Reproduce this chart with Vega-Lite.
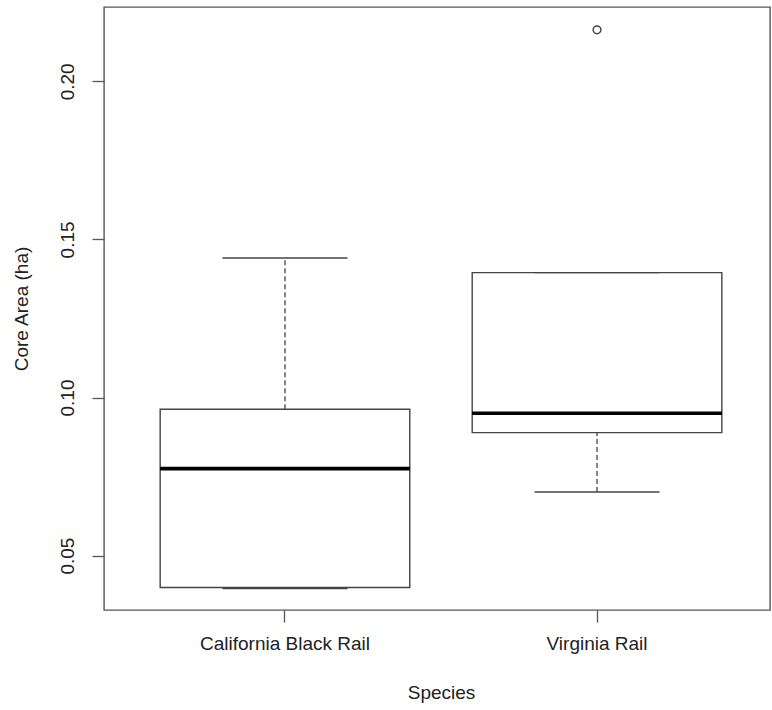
{
  "$schema": "https://vega.github.io/schema/vega-lite/v6.json",
  "autosize": "none",
  "padding": {"left": 104, "top": 7, "right": 2, "bottom": 100},
  "width": 666,
  "height": 603,
  "background": "white",
  "config": {
    "font": "Liberation Sans",
    "view": {"stroke": "#555", "strokeWidth": 1.4},
    "axis": {
      "labelFont": "Liberation Sans",
      "titleFont": "Liberation Sans",
      "labelFontSize": 19,
      "titleFontSize": 19,
      "titleFontWeight": "normal",
      "labelColor": "#222",
      "titleColor": "#222",
      "tickColor": "#555",
      "tickWidth": 1.3,
      "tickSize": 12,
      "domain": false,
      "grid": false
    }
  },
  "datasets": {
    "stats": [
      {"species": "California Black Rail", "lo": 0.0396, "q1": 0.0399, "med": 0.0775, "q3": 0.0963, "hi": 0.1441},
      {"species": "Virginia Rail", "lo": 0.0701, "q1": 0.0889, "med": 0.0950, "q3": 0.1395, "hi": 0.1395}
    ],
    "outliers": [
      {"species": "Virginia Rail", "value": 0.2163}
    ]
  },
  "encoding": {
    "x": {
      "field": "species",
      "type": "nominal",
      "sort": ["California Black Rail", "Virginia Rail"],
      "scale": {"type": "band", "range": [0, 674], "paddingInner": 0, "paddingOuter": 0.08},
      "axis": {"title": "Species", "labelAngle": 0, "labelPadding": 12, "labelBaseline": "top", "titlePadding": 30}
    }
  },
  "layer": [
    {
      "data": {"name": "stats"},
      "mark": {"type": "rule", "stroke": "#444", "strokeWidth": 1.3, "strokeDash": [5, 3]},
      "encoding": {
        "y": {
          "field": "q3", "type": "quantitative",
          "scale": {"domain": [0.0328, 0.2235], "nice": false, "zero": false},
          "axis": {
            "title": "Core Area (ha)",
            "values": [0.05, 0.1, 0.15, 0.2],
            "format": ".2f",
            "labelAngle": -90,
            "labelAlign": "center",
            "labelBaseline": "alphabetic",
            "labelPadding": 19,
            "titleAngle": -90,
            "titleX": -77,
            "titleBaseline": "alphabetic"
          }
        },
        "y2": {"field": "hi"}
      }
    },
    {
      "data": {"name": "stats"},
      "mark": {"type": "rule", "stroke": "#444", "strokeWidth": 1.3, "strokeDash": [5, 3]},
      "encoding": {
        "y": {"field": "lo", "type": "quantitative"},
        "y2": {"field": "q1"}
      }
    },
    {
      "data": {"name": "stats"},
      "mark": {"type": "bar", "fill": "white", "stroke": "#444", "strokeWidth": 1.4, "width": {"band": 0.8}},
      "encoding": {
        "y": {"field": "q1", "type": "quantitative"},
        "y2": {"field": "q3"}
      }
    },
    {
      "data": {"name": "stats"},
      "mark": {"type": "tick", "color": "#444", "size": 125, "thickness": 1.4, "opacity": 1},
      "encoding": {
        "y": {"field": "hi", "type": "quantitative"}
      }
    },
    {
      "data": {"name": "stats"},
      "mark": {"type": "tick", "color": "#444", "size": 125, "thickness": 1.4, "opacity": 1},
      "encoding": {
        "y": {"field": "lo", "type": "quantitative"}
      }
    },
    {
      "data": {"name": "stats"},
      "mark": {"type": "tick", "color": "black", "size": 250, "thickness": 3.6, "opacity": 1},
      "encoding": {
        "y": {"field": "med", "type": "quantitative"}
      }
    },
    {
      "data": {"name": "outliers"},
      "mark": {"type": "point", "shape": "circle", "filled": false, "size": 60, "stroke": "#444", "strokeWidth": 1.5, "opacity": 1},
      "encoding": {
        "y": {"field": "value", "type": "quantitative"}
      }
    }
  ]
}
